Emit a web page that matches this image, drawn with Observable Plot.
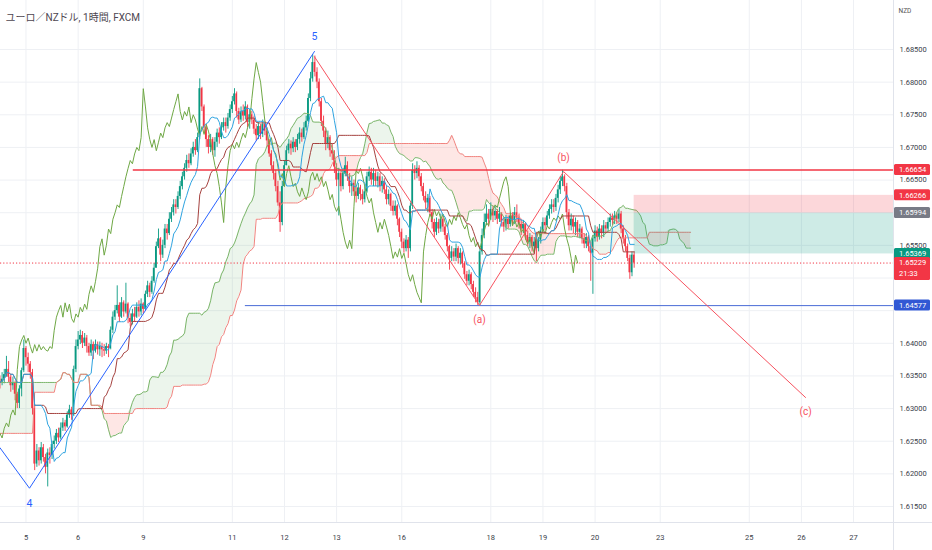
<!DOCTYPE html>
<html><head><meta charset="utf-8">
<script src="https://cdn.jsdelivr.net/npm/d3@7"></script>
<script src="https://cdn.jsdelivr.net/npm/@observablehq/plot@0.6"></script>
<style>body{margin:0;background:#fff;}</style>
</head><body><div id="chart"></div>
<script>
const title = "ユーロ／NZドル, 1時間, FXCM";
const axisUnit = "NZD";
const firstBar = -12;
const firstOpen = 1.6345;
const closes = [
1.6340,1.6345,1.6352,1.6360,1.6348,1.6335,1.6340,1.6322,1.6308,1.6330,
1.6358,1.6392,1.6378,1.6368,1.6355,1.6300,1.6215,1.6235,1.6220,1.6240,
1.6225,1.6210,1.6232,1.6228,1.6245,1.6250,1.6262,1.6255,1.6270,1.6278,
1.6272,1.6290,1.6298,1.6290,1.6360,1.6395,1.6405,1.6412,1.6400,1.6408,
1.6395,1.6385,1.6398,1.6388,1.6398,1.6390,1.6395,1.6390,1.6388,1.6395,
1.6392,1.6420,1.6440,1.6450,1.6458,1.6440,1.6462,1.6448,1.6460,1.6438,
1.6432,1.6445,1.6440,1.6455,1.6448,1.6460,1.6452,1.6475,1.6488,1.6478,
1.6495,1.6515,1.6548,1.6560,1.6535,1.6550,1.6575,1.6568,1.6590,1.6600,
1.6612,1.6608,1.6625,1.6640,1.6655,1.6668,1.6680,1.6675,1.6690,1.6700,
1.6695,1.6715,1.6790,1.6762,1.6730,1.6712,1.6700,1.6712,1.6695,1.6708,
1.6722,1.6715,1.6730,1.6738,1.6732,1.6745,1.6758,1.6770,1.6782,1.6755,
1.6742,1.6755,1.6748,1.6762,1.6738,1.6750,1.6742,1.6728,1.6718,1.6732,
1.6720,1.6735,1.6725,1.6710,1.6690,1.6672,1.6660,1.6640,1.6615,1.6585,
1.6640,1.6672,1.6695,1.6705,1.6698,1.6708,1.6700,1.6712,1.6722,1.6715,
1.6730,1.6740,1.6775,1.6805,1.6830,1.6815,1.6800,1.6770,1.6740,1.6725,
1.6705,1.6715,1.6695,1.6690,1.6670,1.6650,1.6660,1.6640,1.6660,1.6672,
1.6655,1.6640,1.6645,1.6632,1.6625,1.6638,1.6628,1.6620,1.6632,1.6655,
1.6662,1.6650,1.6660,1.6648,1.6655,1.6640,1.6648,1.6635,1.6620,1.6628,
1.6610,1.6602,1.6610,1.6590,1.6570,1.6555,1.6545,1.6558,1.6545,1.6610,
1.6665,1.6660,1.6668,1.6655,1.6640,1.6625,1.6615,1.6622,1.6600,1.6585,
1.6570,1.6585,1.6575,1.6590,1.6578,1.6565,1.6548,1.6530,1.6540,1.6532,
1.6545,1.6530,1.6538,1.6522,1.6505,1.6495,1.6505,1.6490,1.6478,1.6470,
1.6462,1.6540,1.6565,1.6585,1.6598,1.6590,1.6605,1.6595,1.6602,1.6590,
1.6598,1.6585,1.6578,1.6590,1.6582,1.6595,1.6588,1.6600,1.6592,1.6582,
1.6575,1.6582,1.6565,1.6555,1.6562,1.6548,1.6555,1.6545,1.6558,1.6572,
1.6585,1.6580,1.6595,1.6605,1.6612,1.6608,1.6622,1.6635,1.6648,1.6655,
1.6640,1.6600,1.6580,1.6590,1.6578,1.6585,1.6570,1.6575,1.6560,1.6552,
1.6562,1.6548,1.6538,1.6560,1.6572,1.6562,1.6575,1.6568,1.6580,1.6575,
1.6585,1.6592,1.6588,1.6595,1.6590,1.6598,1.6575,1.6560,1.6548,1.6530,
1.6508,1.6535,1.65229];
const highs = [
1.6350,1.6355,1.6360,1.6380,1.6372,1.6352,1.6348,1.6342,1.6325,1.6335,
1.6362,1.6405,1.6395,1.6385,1.6372,1.6360,1.6305,1.6245,1.6240,1.6248,
1.6245,1.6230,1.6238,1.6240,1.6250,1.6258,1.6268,1.6270,1.6278,1.6285,
1.6282,1.6295,1.6305,1.6302,1.6365,1.6405,1.6418,1.6420,1.6418,1.6415,
1.6412,1.6400,1.6405,1.6402,1.6405,1.6402,1.6402,1.6400,1.6398,1.6400,
1.6398,1.6425,1.6448,1.6458,1.6488,1.6462,1.6470,1.6465,1.6492,1.6462,
1.6445,1.6452,1.6455,1.6462,1.6465,1.6468,1.6462,1.6480,1.6495,1.6492,
1.6502,1.6522,1.6555,1.6575,1.6562,1.6558,1.6582,1.6582,1.6600,1.6608,
1.6620,1.6620,1.6632,1.6648,1.6662,1.6675,1.6688,1.6690,1.6698,1.6708,
1.6712,1.6722,1.6805,1.6792,1.6765,1.6735,1.6718,1.6720,1.6715,1.6715,
1.6728,1.6730,1.6738,1.6745,1.6745,1.6752,1.6765,1.6778,1.6790,1.6785,
1.6760,1.6762,1.6765,1.6770,1.6765,1.6758,1.6755,1.6748,1.6735,1.6738,
1.6735,1.6742,1.6740,1.6730,1.6712,1.6695,1.6678,1.6665,1.6648,1.6632,
1.6648,1.6680,1.6702,1.6712,1.6710,1.6715,1.6712,1.6720,1.6730,1.6728,
1.6738,1.6748,1.6782,1.6815,1.6842,1.6840,1.6822,1.6805,1.6775,1.6748,
1.6730,1.6725,1.6718,1.6705,1.6695,1.6675,1.6668,1.6665,1.6668,1.6685,
1.6678,1.6660,1.6655,1.6650,1.6640,1.6645,1.6642,1.6635,1.6640,1.6662,
1.6670,1.6668,1.6668,1.6665,1.6662,1.6660,1.6655,1.6652,1.6640,1.6635,
1.6630,1.6618,1.6618,1.6612,1.6592,1.6575,1.6560,1.6565,1.6562,1.6615,
1.6675,1.6672,1.6678,1.6672,1.6660,1.6645,1.6632,1.6628,1.6625,1.6605,
1.6590,1.6592,1.6590,1.6598,1.6595,1.6582,1.6568,1.6550,1.6548,1.6545,
1.6552,1.6548,1.6545,1.6540,1.6525,1.6510,1.6512,1.6508,1.6495,1.6485,
1.6478,1.6545,1.6575,1.6598,1.6612,1.6605,1.6615,1.6610,1.6610,1.6605,
1.6608,1.6600,1.6592,1.6596,1.6595,1.6600,1.6600,1.6608,1.6612,1.6598,
1.6590,1.6588,1.6585,1.6572,1.6568,1.6565,1.6562,1.6558,1.6562,1.6578,
1.6592,1.6592,1.6602,1.6612,1.6620,1.6620,1.6628,1.6642,1.6655,1.6665,
1.6658,1.6645,1.6605,1.6598,1.6595,1.6592,1.6588,1.6582,1.6578,1.6568,
1.6568,1.6565,1.6555,1.6565,1.6580,1.6578,1.6582,1.6580,1.6588,1.6585,
1.6592,1.6598,1.6598,1.6602,1.6600,1.6605,1.6602,1.6580,1.6565,1.6552,
1.6535,1.6540,1.6540];
const lows = [
1.6330,1.6335,1.6338,1.6348,1.6340,1.6325,1.6328,1.6312,1.6300,1.6300,
1.6318,1.6355,1.6365,1.6355,1.6345,1.6290,1.6205,1.6210,1.6212,1.6215,
1.6218,1.6200,1.6180,1.6215,1.6222,1.6238,1.6245,1.6248,1.6252,1.6265,
1.6265,1.6270,1.6285,1.6282,1.6288,1.6355,1.6390,1.6398,1.6392,1.6395,
1.6385,1.6380,1.6380,1.6375,1.6385,1.6382,1.6380,1.6378,1.6380,1.6383,
1.6378,1.6390,1.6415,1.6435,1.6445,1.6432,1.6438,1.6440,1.6445,1.6430,
1.6425,1.6428,1.6432,1.6438,1.6440,1.6442,1.6445,1.6450,1.6470,1.6470,
1.6475,1.6492,1.6520,1.6545,1.6525,1.6530,1.6545,1.6558,1.6565,1.6585,
1.6595,1.6598,1.6605,1.6620,1.6635,1.6650,1.6662,1.6668,1.6672,1.6685,
1.6688,1.6692,1.6712,1.6755,1.6722,1.6700,1.6690,1.6692,1.6688,1.6685,
1.6700,1.6705,1.6712,1.6725,1.6722,1.6728,1.6740,1.6752,1.6765,1.6745,
1.6735,1.6738,1.6740,1.6742,1.6730,1.6728,1.6735,1.6720,1.6710,1.6712,
1.6712,1.6715,1.6718,1.6700,1.6685,1.6665,1.6650,1.6632,1.6610,1.6570,
1.6580,1.6640,1.6672,1.6690,1.6688,1.6692,1.6692,1.6695,1.6705,1.6708,
1.6712,1.6725,1.6738,1.6770,1.6800,1.6808,1.6790,1.6762,1.6732,1.6715,
1.6695,1.6698,1.6685,1.6680,1.6660,1.6640,1.6595,1.6632,1.6635,1.6655,
1.6648,1.6630,1.6625,1.6625,1.6615,1.6620,1.6618,1.6612,1.6615,1.6630,
1.6648,1.6642,1.6640,1.6640,1.6638,1.6632,1.6630,1.6628,1.6612,1.6612,
1.6602,1.6595,1.6595,1.6580,1.6562,1.6545,1.6538,1.6540,1.6530,1.6540,
1.6605,1.6650,1.6652,1.6648,1.6632,1.6618,1.6605,1.6600,1.6595,1.6575,
1.6562,1.6565,1.6568,1.6570,1.6570,1.6558,1.6540,1.6512,1.6525,1.6525,
1.6525,1.6522,1.6520,1.6515,1.6498,1.6488,1.6488,1.6482,1.6470,1.6462,
1.6458,1.6458,1.6535,1.6560,1.6580,1.6578,1.6588,1.6585,1.6588,1.6582,
1.6585,1.6578,1.6570,1.6572,1.6575,1.6578,1.6580,1.6582,1.6585,1.6575,
1.6565,1.6568,1.6558,1.6548,1.6545,1.6540,1.6542,1.6525,1.6540,1.6552,
1.6568,1.6572,1.6578,1.6590,1.6598,1.6600,1.6602,1.6615,1.6628,1.6640,
1.6632,1.6590,1.6572,1.6572,1.6568,1.6565,1.6562,1.6560,1.6552,1.6545,
1.6545,1.6540,1.6495,1.6475,1.6555,1.6555,1.6558,1.6560,1.6562,1.6568,
1.6570,1.6578,1.6580,1.6582,1.6582,1.6585,1.6568,1.6552,1.6540,1.6525,
1.6498,1.6502,1.6515];
// leading spans for the first 26 projected bars (their source bars lie left of the view)
const leadAHead = [1.6340,1.6340,1.6340,1.6340,1.6340,1.6340,1.6340,1.6340,1.6340,1.6340,1.6340,1.6340,1.6340,
                   1.6340,1.6340,1.6340,1.6340,1.6340,1.6340,1.6340,1.6340,1.6340,1.6340,1.6340,1.6340,1.6340];
const leadBHead = [1.6262,1.6262,1.6262,1.6262,1.6262,1.6262,1.6262,1.6262,1.6262,1.6262,1.6262,1.6262,1.6262,
                   1.6262,1.6262,1.6262,1.6325,1.6325,1.6325,1.6325,1.6325,1.6325,1.6325,1.6325,1.6325,1.6325];
const dayTicks  = [0, 24, 54, 95, 119, 143, 173, 214, 238, 262, 292, 333, 357, 381];
const dayLabels = ["5","6","9","11","12","13","16","18","19","20","23","25","26","27"];
const priceTicks = [1.615,1.620,1.625,1.630,1.635,1.640,1.645,1.650,1.655,1.660,1.665,1.670,1.675,1.680,1.685];
const impulseBar   = [-12, 1.6, 132.8];
const impulsePrice = [1.6240, 1.6178, 1.6847];
const impulseName  = ["", "4", "5"];
const corrBar   = [132.8, 208.8, 247.5, 358.9];
const corrPrice = [1.6839, 1.6458, 1.6663, 1.6317];
const corrName  = ["", "(a)", "(b)", "(c)"];
const resistance = 1.66654, resistanceFrom = 49.4;
const support = 1.64577, supportFrom = 101;
const posEntry = 1.65994, posStop = 1.66266, posTarget = 1.65369, posFrom = 280;
const lastPrice = 1.65229, countdown = "21:33";

const UP = "#089981", DOWN = "#f23645";
const bars = closes.map((c, k) => {
  const o = k ? closes[k - 1] : firstOpen;
  return {i: k + firstBar, o, c, h: Math.max(highs[k], o, c), l: Math.min(lows[k], o, c)};
});
function midRange(k, len) {
  let hi = -Infinity, lo = Infinity;
  for (let j = Math.max(0, k - len + 1); j <= k; j++) { hi = Math.max(hi, bars[j].h); lo = Math.min(lo, bars[j].l); }
  return (hi + lo) / 2;
}
const ichi = bars.map((b, k) => ({i: b.i, tenkan: midRange(k, 9), kijun: midRange(k, 26)}));
const cloud = leadAHead.map((a, k) => ({i: firstBar + k, a, b: leadBHead[k]}));
ichi.forEach((d, k) => cloud.push({i: d.i + 26, a: (d.tenkan + d.kijun) / 2, b: midRange(k, 52)}));
const lagging = bars.map(b => ({i: b.i - 26, v: b.c}));
const upBars = bars.filter(b => b.c >= b.o), downBars = bars.filter(b => b.c < b.o);

const toPts = (I, P, N) => I.map((i, k) => ({i, p: P[k], name: N[k], low: (k > 0 ? P[k] < P[k-1] : P[k] < P[k+1])}));
const impulse = toPts(impulseBar, impulsePrice, impulseName);
const corr = toPts(corrBar, corrPrice, corrName);
const dayLabelOf = new Map(dayTicks.map((t, k) => [t, dayLabels[k]]));
const XMAX = 400;

const badges = [
  {p: resistance, fill: "#f23645"},
  {p: posStop, fill: "#f23645"},
  {p: posEntry, fill: "#787b86"},
  {p: posTarget, fill: "#089981"},
  {p: lastPrice, fill: "#f23645", sub: countdown},
  {p: support, fill: "#3158d4"}
];
// price-axis labels that sit under a badge are hidden, as on the reference
const labelTicks = priceTicks.filter(t => !badges.some(b => t > b.p - (b.sub ? 0.0027 : 0.0011) && t < b.p + 0.0011));

const plot = Plot.plot({
  width: 932, height: 550,
  marginLeft: 0, marginRight: 39, marginTop: 0, marginBottom: 28,
  style: {fontFamily: "Roboto, 'Noto Sans CJK JP', sans-serif", background: "#ffffff", color: "#3a3e4a"},
  x: {domain: [-11.74, 399.4], axis: null},
  y: {domain: [1.61255, 1.692506], axis: null},
  marks: [
    Plot.gridX(dayTicks, {stroke: "#eef0f4", strokeOpacity: 1}),
    Plot.gridY(priceTicks, {stroke: "#eef0f4", strokeOpacity: 1}),
    Plot.axisX(dayTicks, {tickSize: 0, tickPadding: 12, fontSize: 7.5, tickFormat: d => dayLabelOf.get(d)}),
    Plot.axisY(labelTicks, {anchor: "right", tickSize: 0, tickPadding: 6, fontSize: 7.5, label: null, tickFormat: d3.format(".5f")}),
    // cloud
    Plot.areaY(cloud, {x: "i", y1: "b", y2: d => Math.max(d.a, d.b), fill: "#43a047", fillOpacity: 0.1, clip: true}),
    Plot.areaY(cloud, {x: "i", y1: "a", y2: d => Math.max(d.a, d.b), fill: "#f44336", fillOpacity: 0.13, clip: true}),
    // candles
    Plot.ruleX(upBars, {x: "i", y1: "l", y2: "h", stroke: UP, strokeWidth: 0.9, clip: true}),
    Plot.ruleX(downBars, {x: "i", y1: "l", y2: "h", stroke: DOWN, strokeWidth: 0.9, clip: true}),
    Plot.rect(upBars, {x1: d => d.i - 0.38, x2: d => d.i + 0.38, y1: "o", y2: "c", fill: UP, clip: true}),
    Plot.rect(downBars, {x1: d => d.i - 0.38, x2: d => d.i + 0.38, y1: "o", y2: "c", fill: DOWN, clip: true}),
    // ichimoku lines
    Plot.line(cloud, {x: "i", y: "a", stroke: "#7cb66b", strokeWidth: 1, clip: true}),
    Plot.line(cloud, {x: "i", y: "b", stroke: "#f0847f", strokeWidth: 1, clip: true}),
    Plot.line(lagging, {x: "i", y: "v", stroke: "#6fa845", strokeWidth: 1, clip: true}),
    Plot.line(ichi, {x: "i", y: "kijun", stroke: "#a5423f", strokeWidth: 1, clip: true}),
    Plot.line(ichi, {x: "i", y: "tenkan", stroke: "#2ea3e0", strokeWidth: 1, clip: true}),
    // position tool
    Plot.rect([{a: posEntry, b: posStop}], {x1: () => posFrom, x2: () => XMAX, y1: "a", y2: "b", fill: "#f23645", fillOpacity: 0.2, clip: true}),
    Plot.rect([{a: posTarget, b: posEntry}], {x1: () => posFrom, x2: () => XMAX, y1: "a", y2: "b", fill: "#089981", fillOpacity: 0.2, clip: true}),
    // horizontal levels
    Plot.ruleY([{p: resistance, f: resistanceFrom}], {y: "p", x1: "f", x2: () => XMAX, stroke: "#f23645", strokeWidth: 1.6, clip: true}),
    Plot.ruleY([{p: support, f: supportFrom}], {y: "p", x1: "f", x2: () => XMAX, stroke: "#4a6bd6", strokeWidth: 1, clip: true}),
    Plot.ruleY([lastPrice], {stroke: "#f23645", strokeDasharray: "1.2,2", strokeWidth: 1}),
    // waves
    Plot.line(impulse, {x: "i", y: "p", stroke: "#2962ff", strokeWidth: 1, clip: true}),
    Plot.line(corr, {x: "i", y: "p", stroke: "#f7525f", strokeWidth: 1, clip: true}),
    Plot.text(impulse.filter(d => d.name && !d.low), {x: "i", y: "p", text: "name", dy: -15, fill: "#2962ff", fontSize: 10.5}),
    Plot.text(impulse.filter(d => d.name && d.low), {x: "i", y: "p", text: "name", dy: 15, fill: "#2962ff", fontSize: 10.5}),
    Plot.text(corr.filter(d => d.name && !d.low), {x: "i", y: "p", text: "name", dy: -14, fill: "#f7525f", fontSize: 10}),
    Plot.text(corr.filter(d => d.name && d.low), {x: "i", y: "p", text: "name", dy: 14, fill: "#f7525f", fontSize: 10}),
    // title & unit
    Plot.text([title], {frameAnchor: "top-left", text: d => d, dx: 5, dy: 13, textAnchor: "start", fontSize: 10, fill: "#4d4650"}),
    Plot.text([axisUnit], {frameAnchor: "top-right", text: d => d, dx: 5, dy: 8, textAnchor: "start", fontSize: 6.5, fill: "#555"})
  ]
});

const svg = d3.select(plot);
const ys = plot.scale("y");
const W = 932, H = 550, R = 893, B = 522;
svg.append("line").attr("x1", 0).attr("x2", W).attr("y1", B + 0.5).attr("y2", B + 0.5).attr("stroke", "#e0e3eb");
svg.append("line").attr("x1", R + 0.5).attr("x2", R + 0.5).attr("y1", 0).attr("y2", H).attr("stroke", "#e0e3eb");
const g = svg.append("g").attr("font-family", "Roboto, sans-serif").attr("font-size", 7.5).attr("text-anchor", "start");
for (const b of badges) {
  const y = ys.apply(b.p);
  g.append("rect").attr("x", R + 1).attr("y", y - 5.5).attr("width", 36).attr("height", b.sub ? 23 : 11)
    .attr("rx", 1.5).attr("fill", b.fill);
  g.append("text").attr("x", 899).attr("y", y + 2.7).attr("text-anchor", "start").attr("fill", "#fff").text(d3.format(".5f")(b.p));
  if (b.sub) g.append("text").attr("x", 899).attr("y", y + 13.5).attr("text-anchor", "start").attr("fill", "#fff").text(b.sub);
}
document.getElementById("chart").append(plot);
</script>
</body></html>
